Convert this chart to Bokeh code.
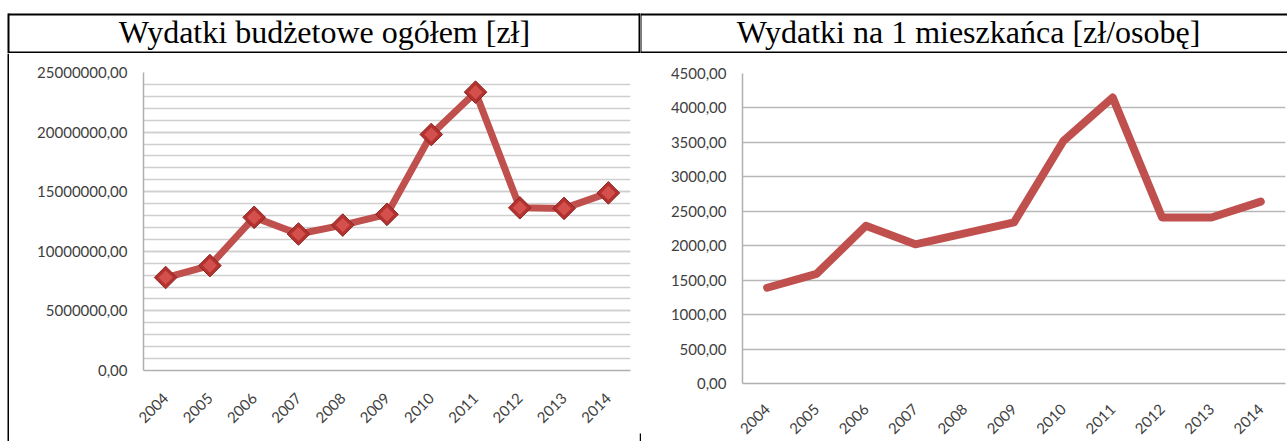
import numpy as np
from bokeh.plotting import figure
from bokeh.layouts import row, column
from bokeh.models import (Range1d, SingleIntervalTicker, FixedTicker,
                          CustomJSTickFormatter, ColumnDataSource)
from bokeh.core.properties import value
from bokeh.embed import file_html
from bokeh.resources import INLINE

# ---------------- data ----------------
years = [2004, 2005, 2006, 2007, 2008, 2009, 2010, 2011, 2012, 2013, 2014]
total_spending = [7.80e6, 8.80e6, 12.85e6, 11.45e6, 12.20e6, 13.10e6,
                  19.80e6, 23.35e6, 13.65e6, 13.60e6, 14.90e6]
per_capita = [1390, 1590, 2290, 2020, 2180, 2340,
              3520, 4150, 2410, 2410, 2640]
title_total = "Wydatki budżetowe ogółem [zł]"
title_capita = "Wydatki na 1 mieszkańca [zł/osobę]"
total_max, total_step = 25e6, 5e6
capita_max, capita_step = 4500, 500

RED = "#c0504d"
LABEL_FONT = "Lato"
LABEL_COLOR = "#404040"
H = 441          # page height
TH = 53          # height of the title row


def canvas(width, height):
    """A figure whose plot area is the whole canvas, in pixel coordinates (y down)."""
    p = figure(width=width, height=height, x_range=Range1d(0, width), y_range=Range1d(height, 0),
               output_backend="svg", toolbar_location=None,
               x_axis_location=None, y_axis_location=None,
               min_border_left=0, min_border_right=0, min_border_top=0, min_border_bottom=0)
    p.grid.visible = False
    p.outline_line_color = None
    return p


def bars(p, rects):
    l, r, t, b = zip(*rects)
    p.quad(left=list(l), right=list(r), top=list(t), bottom=list(b),
           fill_color="black", line_color=None)


def title_cell(width, text, text_x, rects):
    p = canvas(width, TH)
    bars(p, rects)
    p.text(x=[text_x], y=[31], text=[text], text_font=value("Liberation Serif"),
           text_font_size="32px", text_align="center", text_baseline="middle",
           text_color="black")
    return p


def chart(x0, width, frame_l, frame_r, frame_t, frame_b, y_max, x_standoff):
    """x0: page x of the figure; frame_*: page pixel edges of the plot area."""
    p = figure(width=width, height=H - TH,
               x_range=Range1d(years[0] - 0.5, years[-1] + 0.5), y_range=Range1d(0, y_max),
               output_backend="svg", toolbar_location=None,
               min_border_left=frame_l - x0, min_border_right=x0 + width - frame_r,
               min_border_top=frame_t - TH, min_border_bottom=H - frame_b)
    for ax in (p.xaxis[0], p.yaxis[0]):
        ax.major_label_text_font = LABEL_FONT
        ax.major_label_text_font_size = "15px"
        ax.major_label_text_color = LABEL_COLOR
        ax.major_tick_line_color = None
        ax.major_tick_out = 0
        ax.major_tick_in = 0
        ax.minor_tick_line_color = None
        ax.minor_tick_out = 0
        ax.axis_line_color = "#b0b0b0"
        ax.axis_line_width = 1.5
    p.xaxis.ticker = FixedTicker(ticks=years)
    p.xaxis.formatter = CustomJSTickFormatter(code="return tick.toFixed(0);")
    p.xaxis.major_label_orientation = np.pi / 4
    p.xaxis.major_label_standoff = x_standoff
    p.yaxis.major_label_standoff = 16
    p.yaxis.formatter = CustomJSTickFormatter(code="return tick.toFixed(2).replace('.', ',');")
    p.xgrid.visible = False
    p.outline_line_color = None
    return p


# ---------------- title row ----------------
tL = title_cell(640, title_total, 324,
                [(8, 640, 13, 15), (8, 640, 51, 53), (7, 9, 13, 53), (638, 641, 13, 53)])
tR = title_cell(647, title_capita, 328,
                [(0, 647, 13, 15), (0, 647, 51, 53), (-1, 1, 13, 53)])

# ---------------- left chart ----------------
vline = canvas(9, H - TH)
bars(vline, [(7, 9, 0, H - TH)])

pL = chart(9, 630, 143, 630, 72, 370, total_max, 25)
pL.yaxis.ticker = SingleIntervalTicker(interval=total_step, num_minor_ticks=5)
pL.ygrid.grid_line_color = "#cfcfcf"
pL.ygrid.grid_line_width = 1.5
pL.ygrid.minor_grid_line_color = "#cfcfcf"
pL.ygrid.minor_grid_line_width = 1.5
src_total = ColumnDataSource(dict(year=years, v=total_spending))
pL.line("year", "v", source=src_total, line_color=RED, line_width=7,
        line_join="round", line_cap="round")
pL.scatter("year", "v", source=src_total, marker="square", angle=np.pi / 4, size=16,
           fill_color="#b3322f", line_color="#8e2623", line_width=1)
pL.scatter("year", "v", source=src_total, marker="square", angle=np.pi / 4, size=10,
           fill_color="#d4504c", line_color=None)

stub = canvas(2, H - TH)
bars(stub, [(0, 2, H - 8 - TH, H - TH)])

# ---------------- right chart ----------------
pR = chart(641, 645, 742, 1285, 73, 384, capita_max, 23)
pR.yaxis.ticker = SingleIntervalTicker(interval=capita_step)
pR.ygrid.grid_line_color = "#b8b8b8"
pR.ygrid.grid_line_width = 1.5
src_cap = ColumnDataSource(dict(year=years, v=per_capita))
pR.line("year", "v", source=src_cap, line_color=RED, line_width=8,
        line_join="round", line_cap="round")

layout = column(row(tL, tR),
                row(column(vline), column(pL), column(stub), column(pR)))

open("out.html", "w").write(file_html(layout, INLINE))
